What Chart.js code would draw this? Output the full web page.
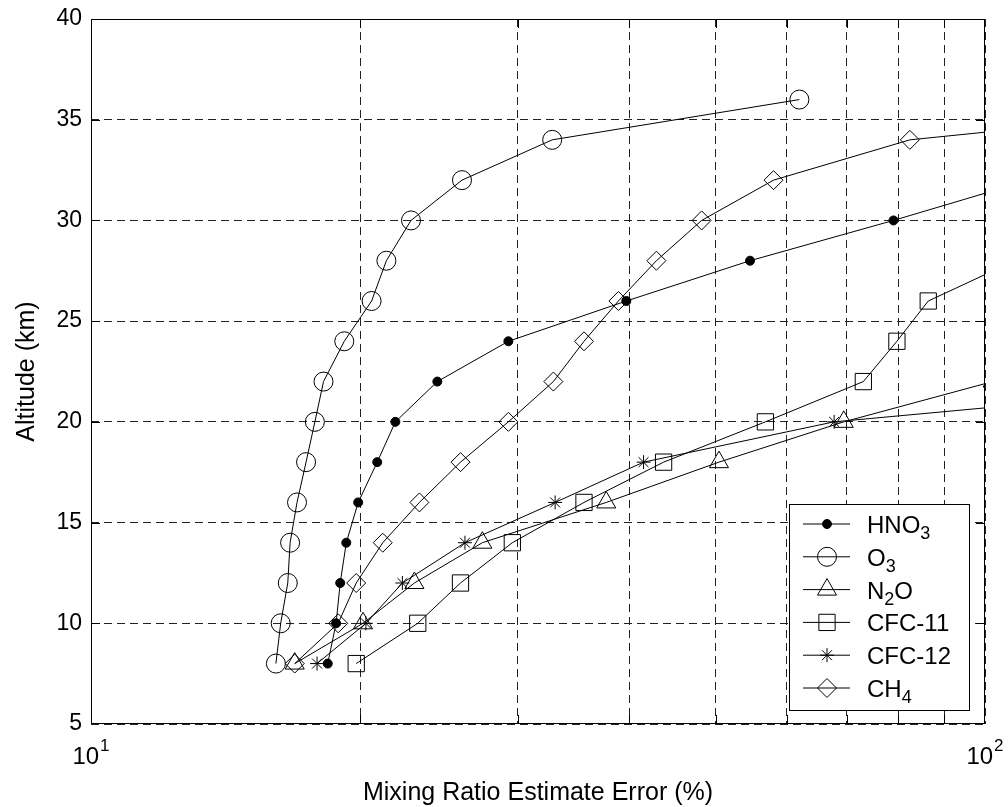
<!DOCTYPE html>
<html>
<head>
<meta charset="utf-8">
<script src="https://cdn.jsdelivr.net/npm/chart.js@4.4.0/dist/chart.umd.min.js"></script>
<style>
    html, body { margin: 0; padding: 0; background: #fff; overflow: hidden; }
    canvas { display: block; }
</style>
</head>
<body>
<canvas id="errorChart" width="1008" height="807"></canvas>
<script>
// retrieval error profiles, altitude in km vs. error in %
const speciesNames = ['HNO_3', 'O_3', 'N_2O', 'CFC-11', 'CFC-12', 'CH_4'];

const hno3Alt = [8, 10, 12, 14, 16, 18, 20, 22, 24, 26, 28, 30, 32];
const hno3Err = [18.4, 18.8, 19.0, 19.3, 19.9, 20.9, 21.9, 24.4, 29.3, 39.7, 54.6, 79.0, 112];

const o3Alt = [8, 10, 12, 14, 16, 18, 20, 22, 24, 26, 28, 30, 32, 34, 36];
const o3Err = [16.1, 16.3, 16.6, 16.7, 17.0, 17.4, 17.8, 18.2, 19.2, 20.6, 21.4, 22.8, 26.0, 32.8, 62.0];

const n2oAlt = [8, 10, 12, 14, 16, 18, 20, 22];
const n2oErr = [16.9, 20.15, 23.0, 27.4, 37.7, 50.4, 69.5, 102];

const cfc11Alt = [8, 10, 12, 14, 16, 18, 20, 22, 24, 26, 28];
const cfc11Err = [19.8, 23.2, 25.9, 29.6, 35.6, 43.7, 56.8, 73.1, 79.7, 86.4, 108];

const cfc12Alt = [8, 10, 12, 14, 16, 18, 20, 22];
const cfc12Err = [17.9, 20.3, 22.3, 26.2, 33.05, 41.5, 67.8, 208];

const ch4Alt = [8, 10, 12, 14, 16, 18, 20, 22, 24, 26, 28, 30, 32, 34, 36];
const ch4Err = [16.9, 18.9, 19.8, 21.2, 23.3, 25.9, 29.3, 32.9, 35.6, 38.9, 42.9, 48.2, 58.0, 82.4, 228];

const xGridValues = [10, 20, 30, 40, 50, 60, 70, 80, 90, 100];
const xLabelExponents = [1, 2];
const yTickValues = [5, 10, 15, 20, 25, 30, 35, 40];

const FONT = '"Liberation Sans", Arial, Helvetica, sans-serif';

const markers = [
    { pointStyle: 'circle', radius: 4.5, fill: '#000' },
    { pointStyle: 'circle', radius: 9.5, fill: 'rgba(0,0,0,0)' },
    { pointStyle: 'triangle', radius: 11, fill: 'rgba(0,0,0,0)' },
    { pointStyle: 'rect', radius: 11.5, fill: 'rgba(0,0,0,0)' },
    { pointStyle: 'star', radius: 7, fill: 'rgba(0,0,0,0)' },
    { pointStyle: 'rectRot', radius: 9.5, fill: 'rgba(0,0,0,0)' }
];

const series = [
    [hno3Err, hno3Alt],
    [o3Err, o3Alt],
    [n2oErr, n2oAlt],
    [cfc11Err, cfc11Alt],
    [cfc12Err, cfc12Alt],
    [ch4Err, ch4Alt]
];

const datasets = series.map(([err, alt], i) => ({
    label: speciesNames[i],
    data: err.map((e, j) => ({ x: e, y: alt[j] })),
    borderColor: '#000',
    borderWidth: 1,
    tension: 0,
    fill: false,
    pointStyle: markers[i].pointStyle,
    pointRadius: markers[i].radius,
    pointBorderColor: '#000',
    pointBorderWidth: 1,
    pointBackgroundColor: markers[i].fill
}));

// text with "_d" turned into a subscript digit
function drawChemText(ctx, text, x, y, size) {
    const parts = text.split(/(_\d)/).filter(p => p);
    let cx = x;
    parts.forEach(p => {
        if (p[0] === '_') {
            ctx.font = `${Math.round(size * 0.75)}px ${FONT}`;
            ctx.fillText(p.slice(1), cx, y + 6);
            cx += ctx.measureText(p.slice(1)).width;
        } else {
            ctx.font = `${size}px ${FONT}`;
            ctx.fillText(p, cx, y);
            cx += ctx.measureText(p).width;
        }
    });
}

const frame = {
    id: 'frame',
    afterDraw(chart) {
        const { ctx, chartArea: a, scales: { x, y } } = chart;
        ctx.save();

        // axes box
        ctx.strokeStyle = '#000';
        ctx.lineWidth = 1;
        ctx.strokeRect(a.left + 0.5, a.top + 0.5, a.right - a.left - 1, a.bottom - a.top - 1);

        // inward tick marks
        const tl = 9;
        ctx.beginPath();
        xGridValues.slice(1, -1).forEach(v => {
            const px = Math.round(x.getPixelForValue(v)) + 0.5;
            ctx.moveTo(px, a.bottom); ctx.lineTo(px, a.bottom - tl);
            ctx.moveTo(px, a.top); ctx.lineTo(px, a.top + tl);
        });
        yTickValues.slice(1, -1).forEach(v => {
            const py = Math.round(y.getPixelForValue(v)) + 0.5;
            ctx.moveTo(a.left, py); ctx.lineTo(a.left + tl, py);
            ctx.moveTo(a.right, py); ctx.lineTo(a.right - tl, py);
        });
        ctx.stroke();

        // y tick labels
        ctx.fillStyle = '#000';
        ctx.font = `23px ${FONT}`;
        ctx.textAlign = 'right';
        ctx.textBaseline = 'middle';
        yTickValues.forEach(v => ctx.fillText(String(v), a.left - 9, y.getPixelForValue(v)));

        // x tick labels as powers of ten
        ctx.textAlign = 'left';
        ctx.textBaseline = 'alphabetic';
        xLabelExponents.forEach(e => {
            const px = x.getPixelForValue(Math.pow(10, e));
            ctx.font = `24px ${FONT}`;
            const wb = ctx.measureText('10').width;
            ctx.font = `17px ${FONT}`;
            const we = ctx.measureText(String(e)).width;
            const start = px - (wb + we + 1) / 2;
            ctx.font = `24px ${FONT}`;
            ctx.fillText('10', start, 764);
            ctx.font = `17px ${FONT}`;
            ctx.fillText(String(e), start + wb + 1, 751);
        });

        // axis titles
        ctx.font = `25px ${FONT}`;
        ctx.textAlign = 'center';
        ctx.fillText('Mixing Ratio Estimate Error (%)', (a.left + a.right) / 2, 800);
        ctx.save();
        ctx.translate(27, (a.top + a.bottom) / 2);
        ctx.rotate(-Math.PI / 2);
        ctx.textBaseline = 'middle';
        ctx.fillText('Altitude (km)', 0, 0);
        ctx.restore();

        // legend
        const box = { left: 789, top: 504, width: 180, height: 206 };
        ctx.fillStyle = '#fff';
        ctx.fillRect(box.left, box.top, box.width, box.height);
        ctx.strokeStyle = '#000';
        ctx.strokeRect(box.left + 0.5, box.top + 0.5, box.width, box.height);
        chart.data.datasets.forEach((ds, i) => {
            const ry = 524 + i * 32.8;
            ctx.beginPath();
            ctx.moveTo(803, ry); ctx.lineTo(850, ry);
            ctx.stroke();
            ctx.fillStyle = markers[i].fill;
            Chart.helpers.drawPoint(ctx, {
                pointStyle: markers[i].pointStyle,
                radius: markers[i].radius,
                borderWidth: 1,
                rotation: 0
            }, 827, ry);
            ctx.fillStyle = '#000';
            ctx.textAlign = 'left';
            ctx.textBaseline = 'alphabetic';
            drawChemText(ctx, ds.label, 867, ry + 9, 24);
        });

        ctx.restore();
    }
};

new Chart(document.getElementById('errorChart'), {
    type: 'line',
    data: { datasets },
    options: {
        responsive: false,
        animation: false,
        layout: { padding: { left: 91, right: 23, top: 19, bottom: 83 } },
        plugins: {
            legend: { display: false },
            tooltip: { enabled: false }
        },
        scales: {
            x: {
                type: 'logarithmic',
                min: 10,
                max: 100,
                afterBuildTicks: scale => { scale.ticks = xGridValues.map(v => ({ value: v })); },
                ticks: { display: false },
                grid: { color: '#222', lineWidth: 1, drawTicks: false },
                border: { display: false, dash: [8, 5] }
            },
            y: {
                type: 'linear',
                min: 5,
                max: 40,
                ticks: { display: false, stepSize: 5 },
                grid: { color: '#222', lineWidth: 1, drawTicks: false },
                border: { display: false, dash: [8, 5] }
            }
        }
    },
    plugins: [frame]
});
</script>
</body>
</html>
